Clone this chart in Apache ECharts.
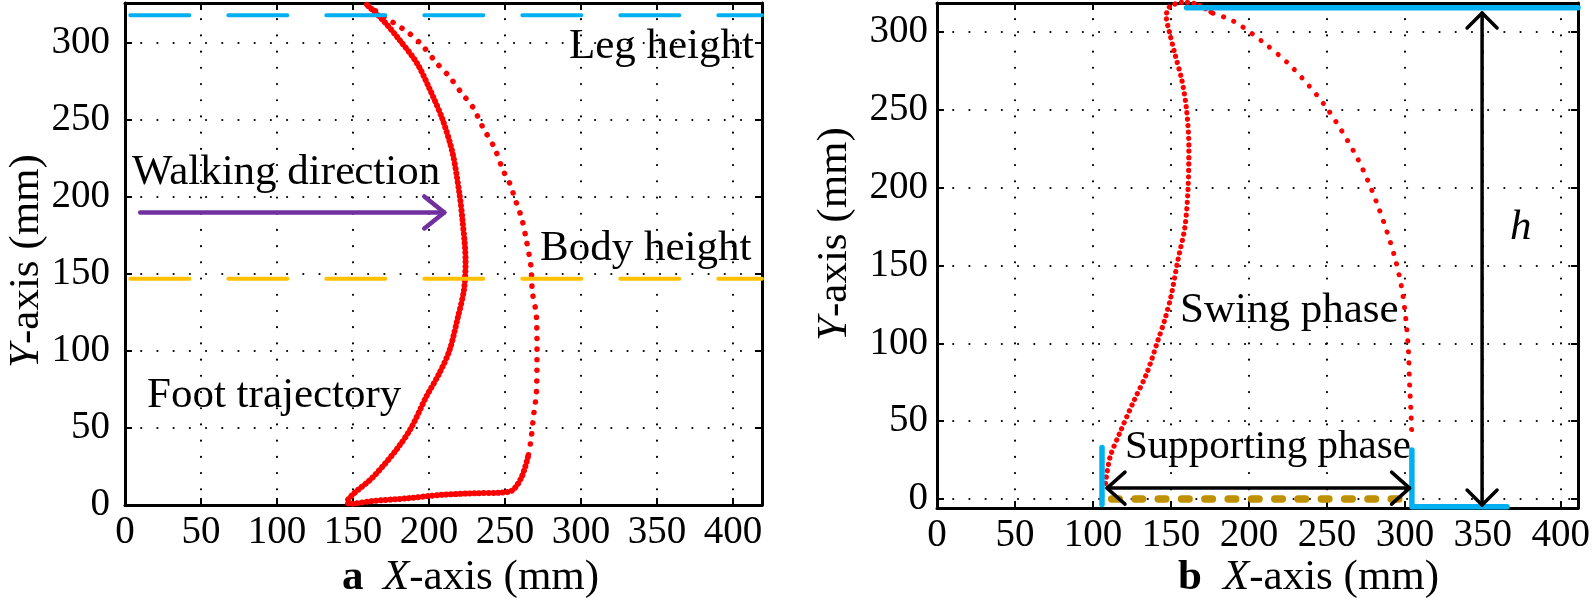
<!DOCTYPE html>
<html><head><meta charset="utf-8">
<script src="https://cdn.jsdelivr.net/npm/echarts@6/dist/echarts.min.js"></script>
<style>html,body{margin:0;padding:0;background:#fff}#c{width:1594px;height:607px}</style>
</head><body><div id="c"></div>
<script>
// ================= DATA =================
// Panel a : foot trajectory (mm)
const aTickStep = 50;
const aXRange = [0, 419];
const aYRange = [0, 326];
const aLegHeightX = [3.5, 419];
const aLegHeightY = [318, 318];
const aBodyHeightX = [3.5, 419];
const aBodyHeightY = [147, 147];
const aWalkArrowX = [10, 210];
const aWalkArrowY = [190, 190];
// dense part: lower right bend -> bottom -> left branch -> top
const aFootDenseX = [265, 261, 255, 246.7, 229, 207, 185, 163, 148, 146, 150, 163, 178.6, 188.5, 198, 207, 213.5, 219, 223, 224, 222, 220, 215.6, 209, 200, 192, 180.6, 169.5, 159];
const aFootDenseY = [31, 18.4, 9.7, 8, 7.6, 6.5, 4.3, 2.6, 0.8, 1.8, 7, 18, 36, 50.6, 70, 86, 100.6, 122, 140, 159, 185, 202, 228, 250, 271, 287, 302, 315, 325];
// sparse part: top -> right branch down
const aFootSparseX = [159, 167.5, 186, 195, 205, 213.5, 221, 229, 235.5, 243, 248.6, 253, 257.5, 261, 264, 267, 268, 270.6, 271, 270.6, 269, 267, 265];
const aFootSparseY = [325, 319, 307, 299, 287, 278, 268, 258, 245, 232, 217.5, 209, 196, 186, 172, 155, 138, 123, 100.6, 72.7, 60, 42, 31];

// Panel b : swing / supporting phase (mm)
const bTickStep = 50;
const bXRange = [0, 411];
const bYRange = [-5.8, 318.6];
const bSwingDenseX = [108, 111, 117, 125.6, 134.6, 141.7, 146, 150, 154.5, 159, 161, 161.5, 160, 157, 152.5, 149, 147, 149, 157.7, 166, 177];
const bSwingDenseY = [10, 27, 42, 61.6, 81, 102, 115, 130, 153.5, 175, 200, 226, 250, 269, 286, 300, 310, 316, 319, 318, 312];
const bSwingSparseX = [177, 190, 209, 228, 250, 270, 283, 293.6, 298.7, 302, 303, 304, 304.5];
const bSwingSparseY = [312, 307, 293.5, 277, 251, 218, 187.5, 155, 131, 100, 74, 53, 38];
const bCyanTopX = [160, 411];
const bCyanTopY = [315.5, 315.5];
const bCyanLeftX = [105.8, 105.8];
const bCyanLeftY = [33, -3.5];
const bCyanRightX = [304.5, 304.5, 365.5];
const bCyanRightY = [31.5, -5, -5];
const bGoldX = [112, 303];
const bGoldY = [0, 0];
const bSupportArrowX = [109, 303];
const bSupportArrowY = [7, 7];
const bHArrowX = [349.5, 349.5];
const bHArrowY = [-3.9, 312.2];

// ================= CHART =================
const FONT = '"Liberation Serif", "Times New Roman", Tinos, "DejaVu Serif", serif';
const zip = (xs, ys) => xs.map((x, i) => [x, ys[i]]);
const dotStyle = { color: '#000', width: 2.2, type: [0.01, 16.2], cap: 'round' };

function axisCommon(extra) {
  return Object.assign({
    type: 'value',
    axisLine: { show: true, onZero: false, lineStyle: { color: '#000', width: 3 } },
    axisTick: { show: true, inside: true, length: 7, lineStyle: { color: '#000', width: 2 } },
    axisLabel: { show: false },
    splitLine: { show: false }
  }, extra);
}
function labelStyle(margin) {
  return { show: true, margin: margin, color: '#000', fontFamily: FONT, fontSize: 39,
           showMinLabel: true, showMaxLabel: false };
}

const xAxis = [
  axisCommon({ gridIndex: 0, position: 'bottom', min: aXRange[0], max: aXRange[1], interval: aTickStep,
    axisLabel: labelStyle(8), splitLine: { show: true, lineStyle: dotStyle } }),
  axisCommon({ gridIndex: 0, position: 'top', min: aXRange[0], max: aXRange[1], interval: aTickStep }),
  axisCommon({ gridIndex: 1, position: 'bottom', min: bXRange[0], max: bXRange[1], interval: bTickStep,
    axisLabel: labelStyle(8), splitLine: { show: true, lineStyle: dotStyle } }),
  axisCommon({ gridIndex: 1, position: 'top', min: bXRange[0], max: bXRange[1], interval: bTickStep })
];
const yAxis = [
  axisCommon({ gridIndex: 0, position: 'left', min: aYRange[0], max: aYRange[1], interval: aTickStep,
    axisLabel: labelStyle(15), splitLine: { show: true, lineStyle: dotStyle } }),
  axisCommon({ gridIndex: 0, position: 'right', min: aYRange[0], max: aYRange[1], interval: aTickStep }),
  axisCommon({ gridIndex: 1, position: 'left', min: bYRange[0], max: bYRange[1],
    minInterval: bTickStep, maxInterval: bTickStep,
    axisLabel: Object.assign(labelStyle(9), { showMinLabel: false }),
    splitLine: { show: true, lineStyle: dotStyle } }),
  axisCommon({ gridIndex: 1, position: 'right', min: bYRange[0], max: bYRange[1],
    minInterval: bTickStep, maxInterval: bTickStep })
];

function lineSeries(xi, yi, xs, ys, color, width, type, extra) {
  return Object.assign({
    type: 'line', xAxisIndex: xi, yAxisIndex: yi, data: zip(xs, ys),
    symbol: 'none', silent: true, z: 3,
    lineStyle: { color: color, width: width, type: type, cap: 'round', join: 'round' }
  }, extra || {});
}

function arrowSeries(xi, yi, xs, ys, color, width, back, half, both) {
  return {
    type: 'custom', xAxisIndex: xi, yAxisIndex: yi, silent: true, clip: false, z: 6,
    data: [[xs[0], ys[0], xs[1], ys[1]]],
    renderItem: function (params, api) {
      const p1 = api.coord([api.value(0), api.value(1)]);
      const p2 = api.coord([api.value(2), api.value(3)]);
      const dx = p2[0] - p1[0], dy = p2[1] - p1[1];
      const len = Math.sqrt(dx * dx + dy * dy);
      const ux = dx / len, uy = dy / len, nx = -uy, ny = ux;
      const style = { stroke: color, lineWidth: width, lineCap: 'round', lineJoin: 'round', fill: null };
      const head = (t, sx, sy) => ({
        type: 'polyline',
        shape: { points: [[t[0] - sx * back + nx * half, t[1] - sy * back + ny * half], [t[0], t[1]],
                          [t[0] - sx * back - nx * half, t[1] - sy * back - ny * half]] },
        style: style
      });
      const children = [{ type: 'line', shape: { x1: p1[0], y1: p1[1], x2: p2[0], y2: p2[1] }, style: style },
                        head(p2, ux, uy)];
      if (both) children.push(head(p1, -ux, -uy));
      return { type: 'group', children: children };
    }
  };
}

const series = [
  // panel a
  lineSeries(0, 0, aLegHeightX, aLegHeightY, '#00B0F0', 4, [59, 39]),
  lineSeries(0, 0, aBodyHeightX, aBodyHeightY, '#FFC000', 4, [59, 39]),
  lineSeries(0, 0, aFootDenseX, aFootDenseY, '#FF0000', 6, [0.1, 4.6], { smooth: 0.3, clip: false, z: 2 }),
  lineSeries(0, 0, aFootSparseX, aFootSparseY, '#FF0000', 5.5, [0.1, 10.5], { smooth: 0.3, clip: false, z: 2 }),
  arrowSeries(0, 0, aWalkArrowX, aWalkArrowY, '#7030A0', 4.5, 20, 16, false),
  // panel b
  lineSeries(2, 2, bSwingDenseX, bSwingDenseY, '#FF0000', 5.2, [0.1, 6.3], { smooth: 0.3, clip: false, z: 2 }),
  lineSeries(2, 2, bSwingSparseX, bSwingSparseY, '#FF0000', 5, [0.1, 11], { smooth: 0.3, clip: false, z: 2 }),
  lineSeries(2, 2, bGoldX, bGoldY, '#BF9000', 7.5, [7.5, 15.8], { clip: false, z: 3 }),
  lineSeries(2, 2, bCyanTopX, bCyanTopY, '#00B0F0', 5.5, 'solid', { clip: false, z: 4 }),
  lineSeries(2, 2, bCyanLeftX, bCyanLeftY, '#00B0F0', 5.5, 'solid', { clip: false, z: 4 }),
  lineSeries(2, 2, bCyanRightX, bCyanRightY, '#00B0F0', 5.5, 'solid', { clip: false, z: 4 }),
  arrowSeries(2, 2, bSupportArrowX, bSupportArrowY, '#000', 3.5, 18, 16, true),
  arrowSeries(2, 2, bHArrowX, bHArrowY, '#000', 3.5, 15, 15, true)
];

function txt(x, y, text, opts) {
  return {
    type: 'text', x: x, y: y, rotation: (opts && opts.rotation) || 0, silent: true, z: 10,
    style: Object.assign({
      text: text, fill: '#000', fontFamily: FONT, fontSize: 43,
      align: 'left', verticalAlign: 'middle'
    }, (opts && opts.style) || {})
  };
}
const rich = {
  i: { fontFamily: FONT, fontSize: 43, fontStyle: 'italic', fill: '#000' },
  n: { fontFamily: FONT, fontSize: 43, fill: '#000' }
};

const graphic = [
  txt(754, 46.5, 'Leg height', { style: { align: 'right' } }),
  txt(132, 172.5, 'Walking direction'),
  txt(540, 248.5, 'Body height'),
  txt(147, 395.5, 'Foot trajectory'),
  txt(342, 577.5, 'a', { style: { fontWeight: 'bold' } }),
  txt(383, 577.5, '{i|X}{n|-axis (mm)}', { style: { rich: rich } }),
  txt(1178, 577.5, 'b', { style: { fontWeight: 'bold' } }),
  txt(1223, 577.5, '{i|X}{n|-axis (mm)}', { style: { rich: rich } }),
  txt(27, 261, '{i|Y}{n|-axis (mm)}', { rotation: Math.PI / 2, style: { rich: rich, align: 'center' } }),
  txt(835, 234, '{i|Y}{n|-axis (mm)}', { rotation: Math.PI / 2, style: { rich: rich, align: 'center' } }),
  txt(1180, 310.5, 'Swing phase'),
  txt(1125, 447.5, 'Supporting phase', { style: { fontSize: 41 } }),
  txt(1510, 227.5, 'h', { style: { fontStyle: 'italic' } })
];

const chart = echarts.init(document.getElementById('c'), null, { renderer: 'canvas' });
chart.setOption({
  animation: false,
  backgroundColor: '#fff',
  grid: [
    { left: 125, top: 3, width: 637, height: 502 },
    { left: 937, top: 3, width: 641, height: 505 }
  ],
  xAxis: xAxis,
  yAxis: yAxis,
  series: series,
  graphic: graphic
});
</script>
</body></html>
